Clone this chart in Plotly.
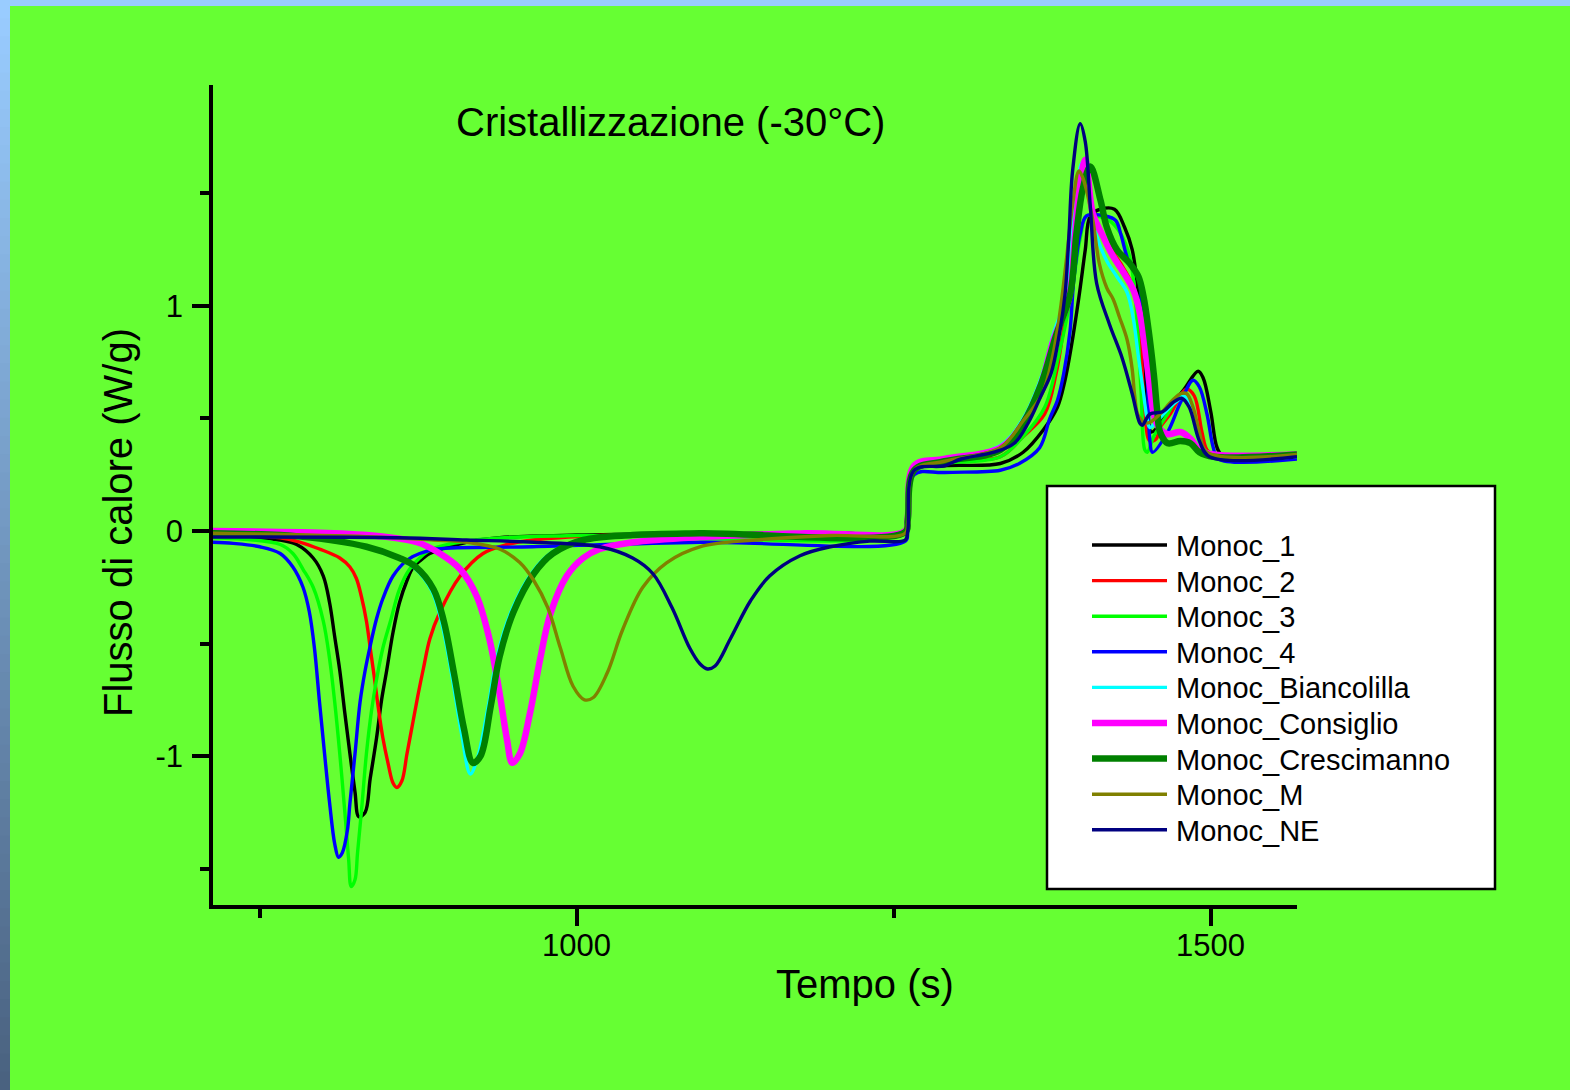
import plotly.graph_objects as go

# ---- DSC crystallisation curves: time (s) vs heat flow (W/g) ----
names = ["Monoc_1", "Monoc_2", "Monoc_3", "Monoc_4", "Monoc_Biancolilla",
         "Monoc_Consiglio", "Monoc_Crescimanno", "Monoc_M", "Monoc_NE"]
colors = ["#000000", "#FF0000", "#00FF00", "#0000FF", "#00FFFF",
          "#FF00FF", "#008000", "#808000", "#000080"]
widths = [3.4, 3.4, 3.4, 3.4, 3.4, 6.5, 6.5, 3.4, 3.4]

x_tickvals = [1000, 1500]
x_ticktext = ["1000", "1500"]
y_tickvals = [-1, 0, 1]
y_ticktext = ["-1", "0", "1"]

t_monoc1 = [713, 766, 779, 792, 800, 805, 809, 813, 817, 821, 825, 828, 833, 837, 842, 846, 850, 855, 860,
            866, 871, 879, 884, 913, 939, 1000, 1100, 1200,
            1259, 1261, 1266, 1290, 1334, 1352, 1368, 1379, 1385, 1390, 1396, 1401, 1405, 1413, 1424, 1432,
            1438, 1442, 1444, 1447, 1450, 1453, 1458, 1468, 1479, 1490, 1494, 1500, 1505, 1510, 1568]
q_monoc1 = [-0.027, -0.04, -0.06, -0.12, -0.20, -0.32, -0.47, -0.62, -0.81, -0.99, -1.16, -1.27, -1.25, -1.10,
            -0.92, -0.75, -0.62, -0.45, -0.32, -0.22, -0.16, -0.12, -0.10, -0.05,
            -0.03, -0.018, -0.012, -0.008, -0.005, 0.04, 0.27, 0.29, 0.30, 0.35, 0.45, 0.55, 0.67, 0.82, 1.04,
            1.25, 1.40, 1.43, 1.43, 1.35, 1.25, 1.10, 1.00, 0.82, 0.55, 0.44, 0.46, 0.55, 0.63, 0.71, 0.68,
            0.53, 0.37, 0.33, 0.33]

t_monoc2 = [713, 766, 782, 797, 813, 821, 826, 830, 834, 837, 840, 843, 847, 851, 855, 858, 862, 866, 871,
            875, 879, 884, 892, 908, 926, 945, 965, 1018,
            1100, 1259, 1261, 1266, 1290, 1334, 1352, 1369, 1378, 1384, 1390, 1394, 1398, 1401, 1407, 1415,
            1423, 1431, 1439, 1444, 1448, 1452, 1457, 1460, 1468, 1481, 1487, 1493, 1497, 1502, 1568]
q_monoc2 = [-0.022, -0.03, -0.05, -0.08, -0.12, -0.16, -0.21, -0.29, -0.40, -0.52, -0.64, -0.77, -0.92, -1.03,
            -1.12, -1.14, -1.11, -0.99, -0.84, -0.72, -0.61, -0.48, -0.36, -0.20, -0.10, -0.06, -0.04, -0.02,
            -0.01, -0.005, 0.05, 0.28, 0.31, 0.33, 0.42, 0.52, 0.70, 0.90,
            1.10, 1.35, 1.55, 1.65, 1.42, 1.32, 1.24, 1.17, 1.08, 0.89, 0.52, 0.40, 0.41, 0.46, 0.52, 0.63,
            0.60, 0.44, 0.36, 0.34, 0.33]

t_monoc3 = [713, 766, 776, 784, 792, 800, 805, 809, 813, 817, 820, 822, 825, 827, 830, 834, 838, 842, 847,
            853, 860, 868, 876, 886, 920, 1000,
            1259, 1261, 1266, 1290, 1334, 1352, 1369, 1380, 1390, 1397, 1402, 1410, 1420, 1428, 1436, 1441,
            1445, 1448, 1450, 1455, 1466, 1476, 1483, 1490, 1497, 1568]
q_monoc3 = [-0.03, -0.06, -0.10, -0.17, -0.25, -0.40, -0.57, -0.76, -0.99, -1.25, -1.46, -1.58, -1.55, -1.43,
            -1.25, -0.99, -0.80, -0.66, -0.52, -0.40, -0.26, -0.17, -0.12, -0.08, -0.04, -0.02,
            -0.01, 0.04, 0.27, 0.30, 0.33, 0.42, 0.55, 0.78, 1.05, 1.30,
            1.40, 1.40, 1.38, 1.33, 1.22, 1.00, 0.62, 0.36, 0.35, 0.42, 0.52, 0.60, 0.57, 0.45, 0.35, 0.33]

t_monoc4 = [713, 729, 750, 766, 776, 784, 789, 793, 797, 801, 805, 809, 812, 815, 819, 821, 825, 829, 833,
            837, 842, 847, 855, 866, 876, 890, 965, 1097,
            1259, 1261, 1266, 1290, 1334, 1349, 1365, 1373, 1379, 1384, 1389, 1392, 1397, 1402, 1417, 1425,
            1429, 1435, 1443, 1446, 1450, 1452, 1454, 1466, 1476, 1486, 1491, 1497, 1502, 1506, 1568]
q_monoc4 = [-0.05, -0.055, -0.07, -0.10, -0.16, -0.25, -0.36, -0.52, -0.76, -0.99, -1.21, -1.39, -1.45, -1.43,
            -1.33, -1.21, -0.99, -0.76, -0.62, -0.51, -0.39, -0.30, -0.20, -0.13, -0.10, -0.08, -0.07, -0.05,
            -0.045, 0.0, 0.25, 0.26, 0.27, 0.30, 0.37, 0.50, 0.58, 0.70,
            0.89, 1.12, 1.32, 1.40, 1.40, 1.38, 1.32, 1.20, 1.12, 0.97, 0.67, 0.40, 0.35, 0.44, 0.57, 0.67,
            0.64, 0.52, 0.37, 0.32, 0.32]

t_bianc = [713, 782, 832, 858, 871, 885, 893, 901, 909, 916, 922, 930, 937, 948, 964, 979, 1003, 1044, 1097,
           1259, 1261, 1266, 1290, 1334, 1352, 1366, 1376, 1386, 1391, 1395, 1399, 1405, 1410, 1418, 1426,
           1434, 1439, 1443, 1447, 1450, 1452, 1458, 1466, 1474, 1479, 1484, 1491, 1499, 1568]
q_bianc = [-0.01, -0.025, -0.07, -0.12, -0.16, -0.26, -0.40, -0.63, -0.90, -1.08, -1.00, -0.78, -0.56, -0.36,
           -0.19, -0.10, -0.04, -0.018, -0.01, -0.005, 0.05, 0.28, 0.31, 0.38, 0.50, 0.68, 0.88, 1.05, 1.35,
           1.57, 1.64, 1.44, 1.31, 1.20, 1.13, 1.06, 0.94, 0.77, 0.61, 0.49, 0.46, 0.49, 0.54, 0.58, 0.60,
           0.55, 0.40, 0.34, 0.33]

t_consi = [713, 808, 848, 874, 892, 908, 921, 931, 939, 945, 949, 955, 963, 971, 979, 992, 1005, 1018, 1044,
           1097, 1180, 1259, 1261, 1266, 1290, 1334, 1352, 1366, 1376, 1388, 1393, 1397, 1401, 1407, 1415,
           1423, 1431, 1439, 1444, 1448, 1452, 1455, 1459, 1466, 1476, 1484, 1491, 1502, 1568]
q_consi = [0.0, -0.01, -0.025, -0.05, -0.10, -0.17, -0.29, -0.48, -0.72, -0.93, -1.03, -0.99, -0.81, -0.57,
           -0.37, -0.20, -0.12, -0.08, -0.05, -0.027, -0.01, 0.0, 0.06, 0.29, 0.32, 0.37, 0.48, 0.65, 0.85,
           1.03, 1.32, 1.55, 1.65, 1.41, 1.31, 1.22, 1.15, 1.07, 0.97, 0.82, 0.64, 0.52, 0.46, 0.43, 0.44,
           0.41, 0.36, 0.34, 0.34]

t_cresc = [713, 782, 834, 860, 873, 887, 895, 903, 911, 918, 924, 932, 939, 950, 966, 981, 1005, 1044, 1097,
           1259, 1261, 1266, 1290, 1334, 1352, 1366, 1378, 1389, 1394, 1399, 1405, 1413, 1418, 1426, 1436,
           1443, 1447, 1451, 1455, 1458, 1460, 1466, 1476, 1484, 1491, 1502, 1568]
q_cresc = [-0.01, -0.025, -0.07, -0.12, -0.16, -0.26, -0.40, -0.63, -0.88, -1.03, -1.00, -0.78, -0.56, -0.36,
           -0.19, -0.10, -0.04, -0.018, -0.01, -0.005, 0.05, 0.27, 0.31, 0.36, 0.48, 0.65, 0.87, 1.05, 1.32,
           1.52, 1.62, 1.47, 1.35, 1.25, 1.19, 1.13, 1.04, 0.89, 0.70, 0.52, 0.44, 0.39, 0.40, 0.39, 0.35,
           0.33, 0.34]

t_monocm = [713, 834, 887, 913, 939, 955, 966, 977, 987, 997, 1006, 1013, 1024, 1036, 1052, 1071, 1097, 1140,
            1200, 1259, 1261, 1266, 1290, 1334, 1352, 1367, 1375, 1381, 1386, 1391, 1396, 1399, 1407, 1412,
            1418, 1423, 1428, 1434, 1438, 1440, 1443, 1450, 1460, 1468, 1476, 1481, 1486, 1491, 1497, 1568]
q_monocm = [-0.01, -0.025, -0.04, -0.05, -0.08, -0.14, -0.22, -0.34, -0.52, -0.69, -0.75, -0.74, -0.63, -0.44,
            -0.25, -0.14, -0.07, -0.04, -0.02, -0.01, 0.04, 0.27, 0.31, 0.37, 0.49, 0.61, 0.77, 0.97, 1.20,
            1.45, 1.60, 1.57, 1.38, 1.19, 1.08, 1.03, 0.95, 0.85, 0.72, 0.60, 0.51, 0.48, 0.52, 0.57, 0.61,
            0.61, 0.55, 0.44, 0.35, 0.34]

t_monocne = [713, 860, 913, 966, 1018, 1044, 1060, 1075, 1089, 1097, 1103, 1109, 1121, 1137, 1152, 1176, 1200,
             1231, 1259, 1261, 1266, 1290, 1303, 1329, 1345, 1356, 1366, 1374, 1381, 1385, 1388, 1391, 1397,
             1401, 1405, 1410, 1420, 1430, 1438, 1444, 1446, 1452, 1462, 1470, 1477, 1483, 1491, 1499, 1568]
q_monocne = [-0.027, -0.03, -0.04, -0.05, -0.07, -0.12, -0.19, -0.34, -0.52, -0.59, -0.613, -0.60, -0.48,
             -0.31, -0.20, -0.11, -0.07, -0.045, -0.04, 0.0, 0.27, 0.29, 0.32, 0.35, 0.39, 0.48, 0.60, 0.70,
             0.89, 1.05, 1.30, 1.60, 1.81, 1.73, 1.44, 1.10, 0.92, 0.77, 0.61, 0.48, 0.47, 0.52, 0.53, 0.57,
             0.59, 0.55, 0.40, 0.33, 0.33]

times = [t_monoc1, t_monoc2, t_monoc3, t_monoc4, t_bianc, t_consi, t_cresc, t_monocm, t_monocne]
flows = [q_monoc1, q_monoc2, q_monoc3, q_monoc4, q_bianc, q_consi, q_cresc, q_monocm, q_monocne]
for t, q in zip(times, flows):
    assert len(t) == len(q), (len(t), len(q))

x_range = [713, 1568]
y_range = [-1.662, 1.982]

# figure geometry (pixels)
W, H = 1570, 1090
L, R, T, B = 213, 1297, 85, 905
BG = "#66FF33"


def px_x(px):
    return (px - L) / (R - L)


def px_y(py):
    return (B - py) / (B - T)


fig = go.Figure()
for name, col, lw, t, q in zip(names, colors, widths, times, flows):
    fig.add_trace(go.Scatter(x=t, y=q, mode="lines", name=name,
                             line=dict(color=col, width=lw, shape="spline", smoothing=1.0),
                             showlegend=False))

shapes = []
# slide frame: light-blue top band and blue-grey gradient on the left edge
shapes.append(dict(type="rect", xref="paper", yref="paper", x0=px_x(0), x1=px_x(W),
                   y0=px_y(6), y1=px_y(0), fillcolor="#99CCFF", line=dict(width=0), layer="below"))
n_steps = 60
top_c, bot_c = (153, 204, 255), (74, 98, 128)
for i in range(n_steps):
    f = i / (n_steps - 1)
    c = tuple(round(a + (b - a) * f) for a, b in zip(top_c, bot_c))
    y0 = H * i / n_steps
    y1 = H * (i + 1) / n_steps + 1
    shapes.append(dict(type="rect", xref="paper", yref="paper", x0=px_x(0), x1=px_x(10),
                       y0=px_y(y1), y1=px_y(y0), fillcolor="rgb(%d,%d,%d)" % c,
                       line=dict(width=0), layer="below"))

# legend box
shapes.append(dict(type="rect", xref="paper", yref="paper", x0=px_x(1047), x1=px_x(1495),
                   y0=px_y(889), y1=px_y(486), fillcolor="white", line=dict(color="black", width=2.5)))

annotations = []
for i, (name, col, lw) in enumerate(zip(names, colors, widths)):
    yy = 545 + 35.6 * i
    shapes.append(dict(type="line", xref="paper", yref="paper", x0=px_x(1092), x1=px_x(1167),
                       y0=px_y(yy), y1=px_y(yy), line=dict(color=col, width=lw)))
    annotations.append(dict(xref="paper", yref="paper", x=px_x(1174), y=px_y(yy + 1), text=name,
                            showarrow=False, xanchor="left", yanchor="middle",
                            font=dict(size=29, color="black")))

# x tick labels placed just under the major ticks
for v, s in zip(x_tickvals, x_ticktext):
    annotations.append(dict(xref="x", yref="paper", x=v, y=px_y(945), text=s, showarrow=False,
                            xanchor="center", yanchor="middle", font=dict(size=31, color="black")))

font_family = "Arial, Liberation Sans, sans-serif"
annotations.append(dict(xref="paper", yref="paper", x=px_x(670), y=px_y(122),
                        text="Cristallizzazione (-30°C)", showarrow=False,
                        xanchor="center", yanchor="middle", font=dict(size=40, color="black")))
annotations.append(dict(xref="paper", yref="paper", x=px_x(865), y=px_y(984),
                        text="Tempo (s)", showarrow=False,
                        xanchor="center", yanchor="middle", font=dict(size=40, color="black")))
annotations.append(dict(xref="paper", yref="paper", x=px_x(118), y=px_y(523),
                        text="Flusso di calore (W/g)", showarrow=False, textangle=-90,
                        xanchor="center", yanchor="middle", font=dict(size=40, color="black")))

axis_common = dict(showline=True, linecolor="black", linewidth=3.5, showgrid=False, zeroline=False,
                   ticks="outside", ticklen=17, tickwidth=3.5, tickcolor="black",
                   tickfont=dict(size=31, color="black"), mirror=False, tickmode="array")

fig.update_layout(
    width=W, height=H,
    margin=dict(l=L, r=W - R, t=T, b=H - B, pad=0),
    paper_bgcolor=BG, plot_bgcolor=BG,
    font=dict(family=font_family, color="black"),
    showlegend=False,
    shapes=shapes,
    annotations=annotations,
    xaxis=dict(range=x_range, tickvals=x_tickvals, ticktext=x_ticktext, showticklabels=False,
               minor=dict(ticks="outside", ticklen=9, tickwidth=3.5, tickcolor="black",
                          tick0=0, dtick=250), **axis_common),
    yaxis=dict(range=y_range, tickvals=y_tickvals, ticktext=y_ticktext, ticklabelstandoff=3,
               minor=dict(ticks="outside", ticklen=9, tickwidth=3.5, tickcolor="black",
                          tick0=0, dtick=0.5), **axis_common),
)

fig.write_html("out.html")
